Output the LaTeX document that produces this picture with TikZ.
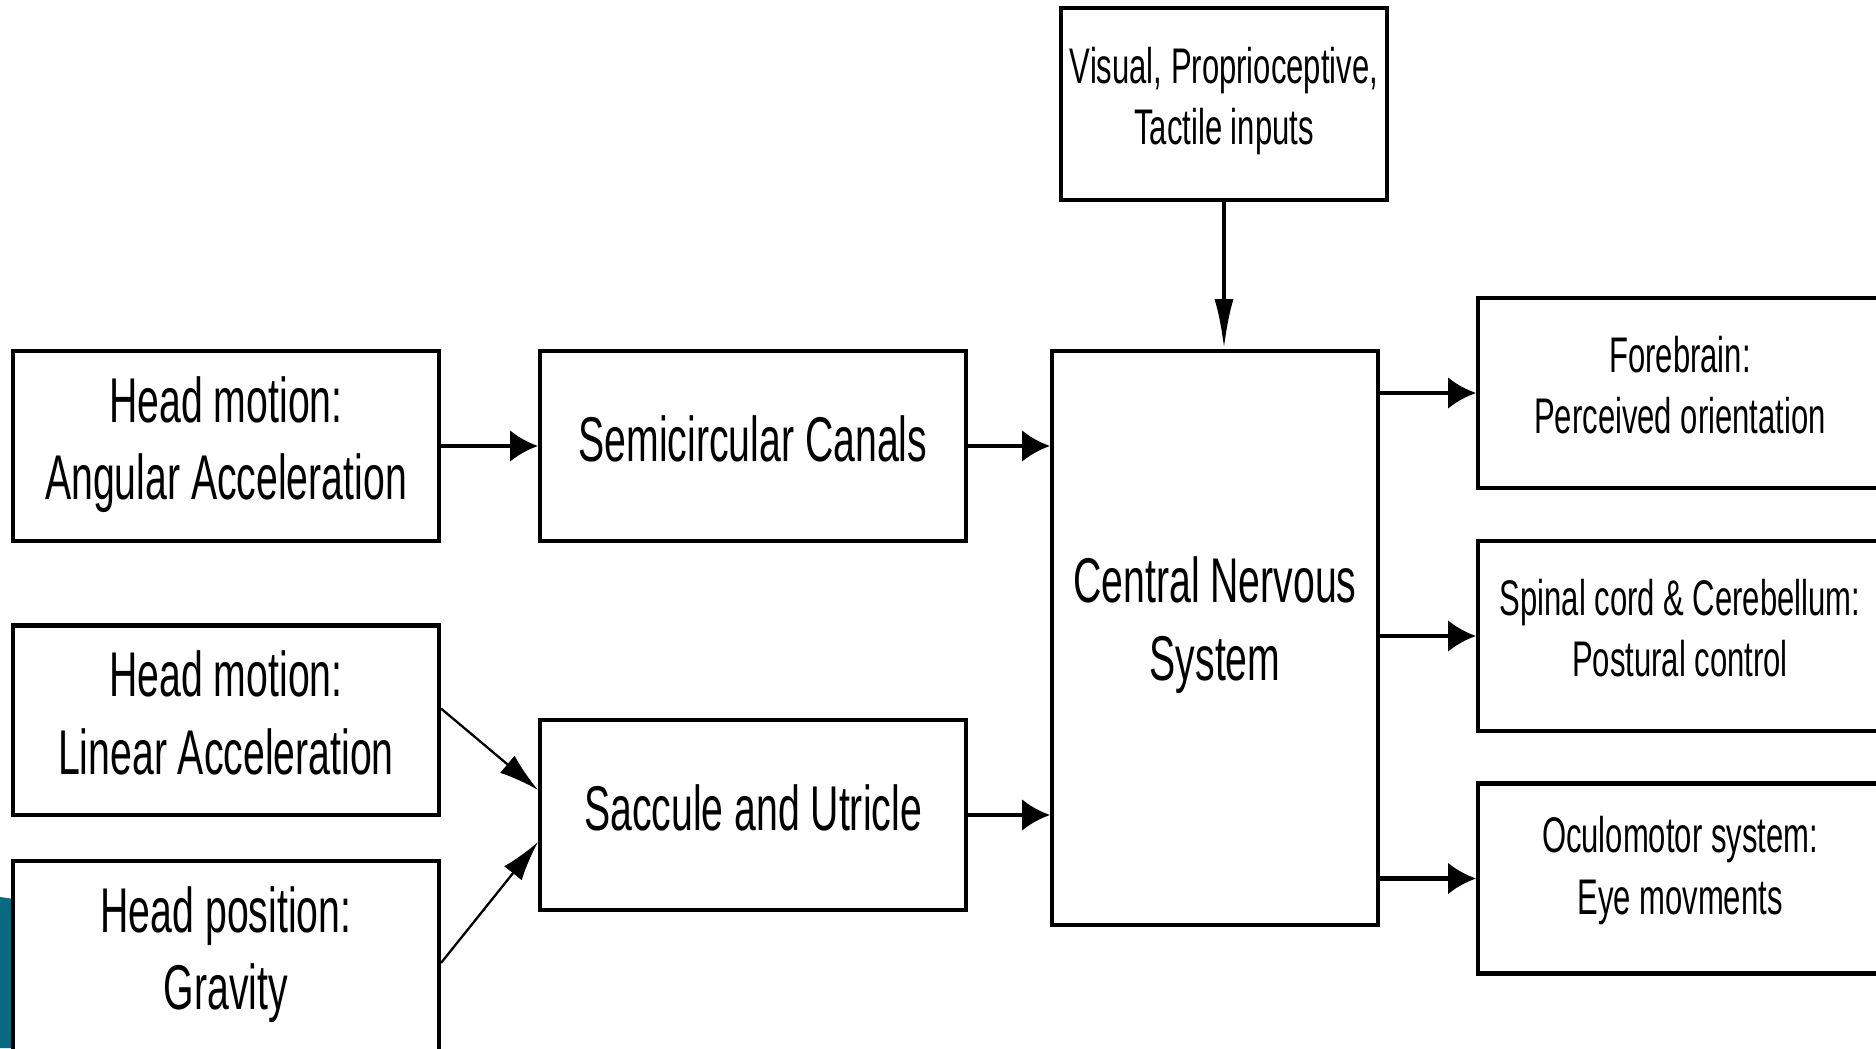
\documentclass[tikz,border=0pt]{standalone}
\usepackage{fontspec}
\usetikzlibrary{arrows.meta, positioning}
\newfontfamily\boxfont[FakeStretch=0.62]{Liberation Sans}
\definecolor{tealbg}{RGB}{8,106,128}

\tikzset{
  blk/.style={draw, line width=2.3pt, fill=white, align=center, inner sep=0pt, text depth=9pt,
    minimum width=8.52cm, minimum height=3.8cm, font=\boxfont\fontsize{36}{44}\selectfont},
  outblk/.style={blk, minimum width=8.08cm, font=\boxfont\fontsize{28.5}{35}\selectfont},
  arr/.style={line width=2.5pt, -{Latex[length=0.56cm, width=0.64cm]}},
  thinarr/.style={line width=1.3pt, -{Latex[length=0.8cm, width=0.45cm]}}
}

\begin{document}
\begin{tikzpicture}[x=0.02cm, y=0.02cm]
  \useasboundingbox (0,0) rectangle (1876,1048);
  \fill[tealbg] (0,151) -- (14,149) -- (14,0) -- (0,0) -- cycle;

  \node[blk] (ang) at (226,602) {Head motion:\\Angular Acceleration};
  \node[blk] (lin) at (226,327.5) {Head motion:\\Linear Acceleration};
  \node[blk] (grav) at (226,92) {Head position:\\Gravity};
  \node[blk] (semi) at (753,602) {Semicircular Canals};
  \node[blk] (sacc) at (753,233) {Saccule and Utricle};
  \node[blk, minimum width=6.52cm, minimum height=11.48cm, text depth=22pt] (cns) at (1215,410) {Central Nervous\\System};
  \node[outblk, minimum width=6.52cm, minimum height=3.84cm] (vis) at (1224,944) {Visual, Proprioceptive,\\Tactile inputs};
  \node[outblk] (fore) at (1680,655) {Forebrain:\\Perceived orientation};
  \node[outblk] (spin) at (1680,412) {Spinal cord \& Cerebellum:\\Postural control};
  \node[outblk, text depth=15pt] (ocul) at (1680,169.5) {Oculomotor system:\\Eye movments};

  \draw[arr] (ang) -- (semi);
  \draw[arr] (semi) -- (semi -| cns.west);
  \draw[arr] (sacc) -- (sacc -| cns.west);
  \draw[thinarr] ([yshift=0.24cm]lin.east) -- ([yshift=0.5cm]sacc.west);
  \draw[thinarr] ([yshift=-0.14cm]grav.east) -- ([yshift=-0.54cm]sacc.west);
  \draw[line width=2.5pt, -{Latex[length=1cm, width=0.38cm]}] (vis.south) -- (vis.south |- cns.north);
  \draw[arr] (cns.east |- fore) -- (fore.west);
  \draw[arr] (cns.east |- spin) -- (spin.west);
  \draw[arr] (cns.east |- ocul) -- (ocul.west);
\end{tikzpicture}
\end{document}
